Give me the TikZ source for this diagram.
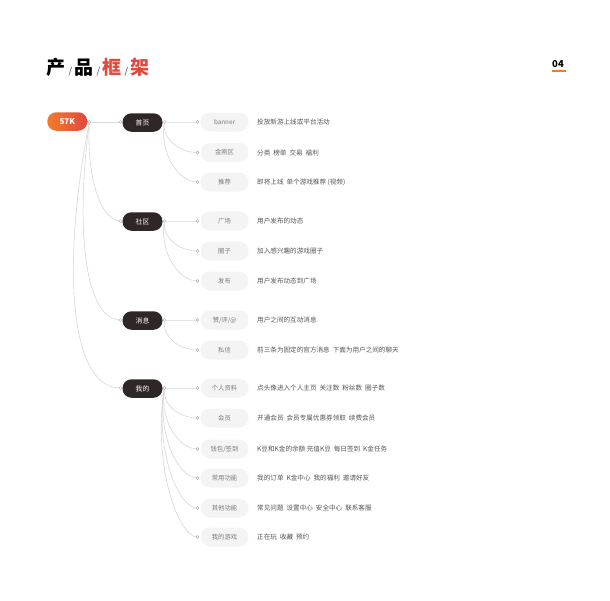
\documentclass[tikz,border=0pt]{standalone}
\usepackage{fontspec}
\setmainfont{Noto Sans CJK SC}
\usetikzlibrary{calc}
\definecolor{darkpill}{HTML}{2F2725}
\definecolor{leafpill}{HTML}{F4F4F4}
\definecolor{leaftext}{HTML}{7A7A7A}
\definecolor{desctext}{HTML}{555555}
\definecolor{linkgray}{HTML}{D8D8D8}
\definecolor{titlered}{HTML}{E2483B}
\definecolor{orangeA}{HTML}{F47B2B}
\definecolor{redB}{HTML}{E0483E}
\pgfdeclarelayer{bg}
\pgfsetlayers{bg,main}
\tikzset{
  rootpill/.style={rounded corners=9pt, minimum width=40pt, minimum height=18.5pt, inner sep=0pt,
    left color=orangeA, right color=redB, text=white, font=\fontsize{8}{8}\selectfont\bfseries},
  midpill/.style={rounded corners=9pt, fill=darkpill, minimum width=40pt, minimum height=18.5pt,
    inner sep=0pt, text=white, font=\fontsize{6.8}{7}\selectfont},
  leaf/.style={rounded corners=9.5pt, fill=leafpill, minimum width=48pt, minimum height=19pt,
    inner sep=0pt, text=leaftext, font=\fontsize{6.3}{7}\selectfont},
  desc/.style={anchor=west, inner sep=0pt, text=desctext, font=\fontsize{6.6}{7}\selectfont},
  link/.style={draw=linkgray, line width=0.6pt},
  dot/.style={circle, draw=black!30, fill=white, line width=0.4pt, minimum size=3pt, inner sep=0pt},
  titlech/.style={inner sep=0pt, font=\fontsize{19}{19}\selectfont\bfseries},
  slash/.style={inner sep=0pt, text=black!75, font=\fontsize{9}{9}\selectfont},
}
\newcommand\leafrow[6]{% name, parent, parent y, y, label, desc
  \pgfmathsetmacro\mydy{#4-#3}
  \node[leaf] (#1) at (224.5,#4) {#5};
  \node[desc] (#1-d) at (257,#4) {#6};
  \coordinate (#1-in) at (197.5,#4);
  \begin{pgfonlayer}{bg}
    \draw[link] (#2-out) .. controls +(-0.08*\mydy,0.5*\mydy) and +(-20,0) .. (#1-in);
  \end{pgfonlayer}
  \node[dot] (#1-indot) at (#1-in) {};
}
\begin{document}
\begin{tikzpicture}[x=1pt,y=-1pt]
\useasboundingbox (0,0) rectangle (610,600);
\begin{pgfonlayer}{bg}
\fill[white] (0,0) rectangle (610,600);
\end{pgfonlayer}

% title
\node[titlech] (t1) at (56,67.5) {产};
\node[slash] (s1) at (70.5,72) {/};
\node[titlech] (t2) at (84,67.5) {品};
\node[slash] (s2) at (98.5,72) {/};
\node[titlech, text=titlered] (t3) at (112,67.5) {框};
\node[slash] (s3) at (126.5,72) {/};
\node[titlech, text=titlered] (t4) at (140,67.5) {架};

\node[inner sep=0pt, font=\fontsize{9.5}{9.5}\selectfont\bfseries] (pg) at (558,64) {04};
\draw[orangeA, line width=1.6pt] (551.5,70.8) -- (565.5,70.8);

% root
\node[rootpill] (root) at (67.3,121.5) {57K};
\coordinate (root-out) at (89.3,122);

% level 1
\node[midpill] (home) at (142.5,122.5) {首页};
\node[midpill] (comm) at (142.5,221.5) {社区};
\node[midpill] (msg)  at (142.5,320.5) {消息};
\node[midpill] (mine) at (142.5,388.5) {我的};
\foreach \n/\yy in {home/122, comm/221, msg/320, mine/388}{
  \coordinate (\n-in) at (120.7,\yy);
  \coordinate (\n-out) at (164.3,\yy);
}

\begin{pgfonlayer}{bg}
  \draw[link] (root-out) -- (home-in);
  \draw[link] (root-out) .. controls +(-3,55) and +(-20,0) .. (comm-in);
  \draw[link] (root-out) .. controls +(-14,108) and +(-36,0) .. (msg-in);
  \draw[link] (root-out) .. controls +(-27,138) and +(-53,0) .. (mine-in);
\end{pgfonlayer}

% level 2
\leafrow{banner}{home}{122}{122}{banner}{投放新游上线或平台活动}
\leafrow{jgq}{home}{122}{152.5}{金刚区}{分类\ \ 榜单\ \ 交易\ \ 福利}
\leafrow{tj}{home}{122}{182}{推荐}{即将上线\ \ 单个游戏推荐 (视频)}
\leafrow{gc}{comm}{221}{221}{广场}{用户发布的动态}
\leafrow{qz}{comm}{221}{251}{圈子}{加入感兴趣的游戏圈子}
\leafrow{fb}{comm}{221}{281}{发布}{用户发布动态到广场}
\leafrow{zp}{msg}{320}{320}{赞/评/@}{用户之间的互动消息}
\leafrow{sx}{msg}{320}{350}{私信}{前三条为固定的官方消息\ \ 下面为用户之间的聊天}
\leafrow{grzl}{mine}{388}{388}{个人资料}{点头像进入个人主页\ \ 关注数\ \ 粉丝数\ \ 圈子数}
\leafrow{hy}{mine}{388}{418}{会员}{开通会员\ \ 会员专属优惠券领取\ \ 续费会员}
\leafrow{qb}{mine}{388}{449}{钱包/签到}{K豆和K金的余额\ 充值K豆\ \ 每日签到\ \ K金任务}
\leafrow{cy}{mine}{388}{478}{常用功能}{我的订单\ \ K金中心\ \ 我的福利\ \ 邀请好友}
\leafrow{qt}{mine}{388}{508}{其他功能}{常见问题\ \ 设置中心\ \ 安全中心\ \ 联系客服}
\leafrow{yx}{mine}{388}{537}{我的游戏}{正在玩\ \ 收藏\ \ 预约}

% dots
\node[dot] (root-dot) at (root-out) {};
\foreach \n in {home, comm, msg, mine}{
  \node[dot] (\n-indot) at (\n-in) {};
  \node[dot] (\n-outdot) at (\n-out) {};
}
\end{tikzpicture}
\end{document}
